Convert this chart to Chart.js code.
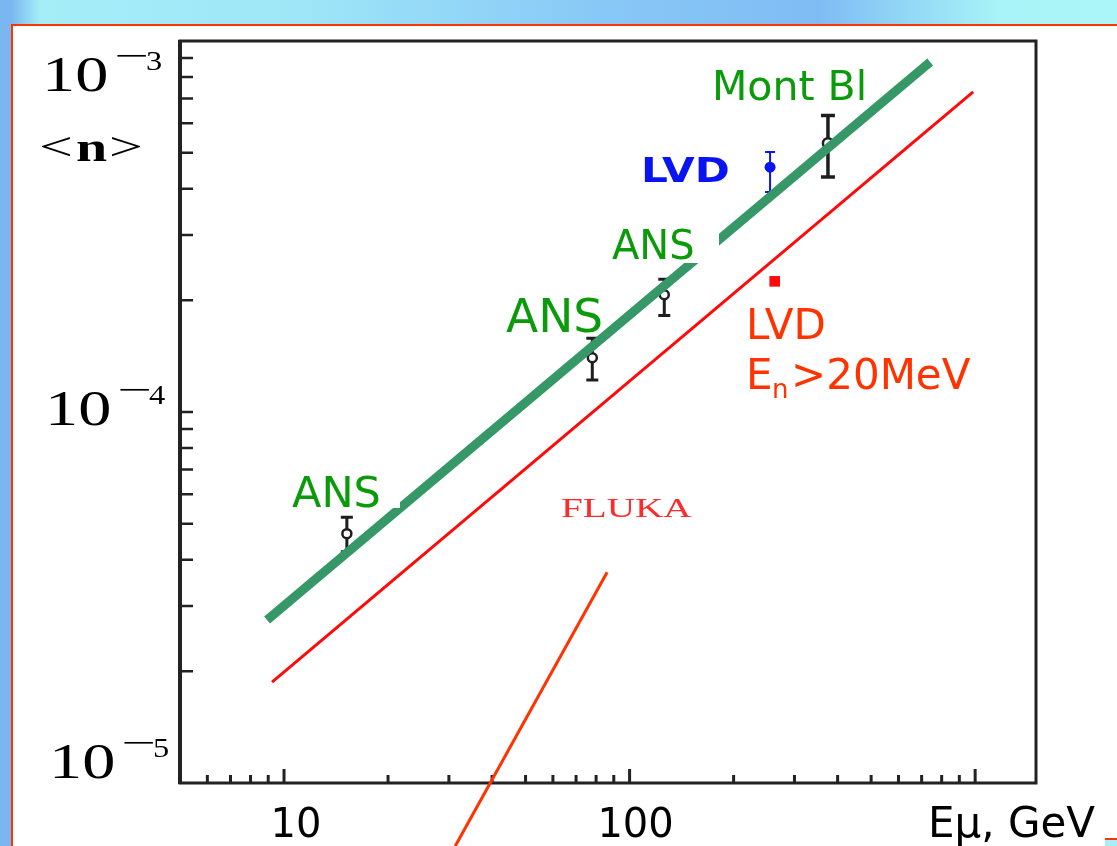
<!DOCTYPE html>
<html>
<head>
<meta charset="utf-8">
<title>Neutron yield vs muon energy</title>
<script src="https://cdn.jsdelivr.net/npm/chart.js@4.4.0/dist/chart.umd.min.js"></script>
<style>
  html, body { margin: 0; padding: 0; }
  body {
    width: 1117px; height: 846px; overflow: hidden; position: relative;
    background: linear-gradient(90deg, #7ab6f0 0px, #7ab6f0 11px, #a4eef8 40px, #9fe6f8 300px, #88c8f6 600px, #7fbcf4 820px, #a8f4f8 1000px, #aaf6f8 1117px);
  }
  #panel {
    position: absolute; left: 11px; top: 24px; right: 0; bottom: 0;
    background: #fff; border-top: 2px solid #ff3300; border-left: 2px solid #ff3300;
  }
  #corner {
    position: absolute; left: 1105px; top: 838px; width: 12px; height: 8px;
    background: #a6eef8; border-top: 2px solid #ff3300;
  }
  #chart { position: absolute; left: 0; top: 0; }
</style>
</head>
<body>
<div id="panel"></div>
<div id="corner"></div>
<canvas id="chart" width="1117" height="846"></canvas>
<script>
// Axis ranges and ticks
const xRange = [5, 1500];
const yRange = [1e-5, 1e-3];
const xMajorTicks = [10, 100, 1000];
const xMinorTicks = [6, 7, 8, 9, 20, 30, 40, 50, 60, 70, 80, 90, 200, 300, 400, 500, 600, 700, 800, 900];
const yTicks = [2e-5, 3e-5, 4e-5, 5e-5, 6e-5, 7e-5, 8e-5, 9e-5, 1e-4, 2e-4, 3e-4, 4e-4, 5e-4, 6e-4, 7e-4, 8e-4, 9e-4];
const xTickLabels = ['10', '100'];
const yTickExponents = ['3', '4', '5'];

// Measurements (E_mu in GeV, <n>)
const ansEnergy = [15.2, 78, 126];
const ansN = [4.7e-5, 1.40e-4, 2.07e-4];
const ansLow = [4.2e-5, 1.22e-4, 1.82e-4];
const ansHigh = [5.2e-5, 1.58e-4, 2.28e-4];

const montBlEnergy = [375];
const montBlN = [5.3e-4];
const montBlLow = [4.3e-4];
const montBlHigh = [6.3e-4];

const lvdEnergy = [255];
const lvdN = [4.57e-4];
const lvdLow = [3.92e-4];
const lvdHigh = [5.02e-4];

const lvd20Energy = [263];
const lvd20N = [2.25e-4];

// Lines: hand fit through data, FLUKA simulation, pointer
const fitEnergy = [8.93, 741];
const fitN = [2.75e-5, 8.78e-4];
const flukaEnergy = [9.23, 987];
const flukaN = [1.87e-5, 7.29e-4];
const pointerEnergy = [86.1, 31.3];
const pointerN = [3.70e-5, 6.76e-6];

const toPts = (xs, ys) => xs.map((x, i) => ({ x: x, y: ys[i] }));

const errorGroups = [
    { xs: ansEnergy, lo: ansLow, hi: ansHigh, color: '#1e1e1e', cap: 6, width: 3 },
    { xs: montBlEnergy, lo: montBlLow, hi: montBlHigh, color: '#1e1e1e', cap: 7, width: 3.5 },
    { xs: lvdEnergy, lo: lvdLow, hi: lvdHigh, color: '#0a14f0', cap: 5, width: 2 }
];

function stretchText(ctx, txt, x, y, font, color, sx) {
    ctx.save();
    ctx.font = font;
    ctx.fillStyle = color;
    ctx.textAlign = 'left';
    ctx.textBaseline = 'alphabetic';
    ctx.translate(x, y);
    ctx.scale(sx, 1);
    ctx.fillText(txt, 0, 0);
    ctx.restore();
}

const paperPlugin = {
    id: 'paperPlugin',
    beforeDatasetsDraw(chart) {
        const ctx = chart.ctx;
        const xs = chart.scales.x, ys = chart.scales.y;
        const a = chart.chartArea;

        // error bars
        errorGroups.forEach(g => {
            ctx.save();
            ctx.strokeStyle = g.color;
            ctx.lineWidth = g.width;
            g.xs.forEach((e, i) => {
                const px = xs.getPixelForValue(e);
                const y1 = ys.getPixelForValue(g.lo[i]);
                const y2 = ys.getPixelForValue(g.hi[i]);
                ctx.beginPath();
                ctx.moveTo(px, y1); ctx.lineTo(px, y2);
                ctx.moveTo(px - g.cap, y1); ctx.lineTo(px + g.cap, y1);
                ctx.moveTo(px - g.cap, y2); ctx.lineTo(px + g.cap, y2);
                ctx.stroke();
            });
            ctx.restore();
        });

        // frame
        ctx.save();
        ctx.strokeStyle = '#222';
        ctx.lineWidth = 3;
        ctx.strokeRect(a.left, a.top, a.right - a.left, a.bottom - a.top);
        ctx.lineWidth = 4;
        ctx.beginPath();
        ctx.moveTo(a.left, a.top - 1); ctx.lineTo(a.left, a.bottom + 1);
        ctx.stroke();

        // inward ticks
        ctx.lineWidth = 2.5;
        ctx.beginPath();
        yTicks.forEach(v => {
            const py = ys.getPixelForValue(v);
            ctx.moveTo(a.left, py); ctx.lineTo(a.left + 13, py);
        });
        ctx.stroke();
        ctx.lineWidth = 3;
        ctx.beginPath();
        xMinorTicks.forEach(v => {
            const px = xs.getPixelForValue(v);
            ctx.moveTo(px, a.bottom); ctx.lineTo(px, a.bottom - 8);
        });
        xMajorTicks.forEach(v => {
            const px = xs.getPixelForValue(v);
            ctx.moveTo(px, a.bottom); ctx.lineTo(px, a.bottom - 14);
        });
        ctx.stroke();
        ctx.restore();
    },
    afterDatasetsDraw(chart) {
        const ctx = chart.ctx;
        const xs = chart.scales.x;
        const sans = '"DejaVu Sans", Verdana, sans-serif';
        const serif = '"Liberation Serif", "Times New Roman", serif';

        // white boxes under pasted labels
        ctx.save();
        ctx.fillStyle = '#fff';
        ctx.fillRect(605, 215, 114, 48);
        ctx.fillRect(285, 465, 115, 43);
        ctx.restore();

        const green = '#0a9a0a';
        stretchText(ctx, 'Mont Bl', 712, 100, '41px ' + sans, green, 1);
        stretchText(ctx, 'ANS', 612, 259, '40px ' + sans, green, 1);
        stretchText(ctx, 'ANS', 506, 332, '47px ' + sans, green, 1);
        stretchText(ctx, 'ANS', 292, 507, '43px ' + sans, green, 1);

        stretchText(ctx, 'LVD', 641, 182, 'bold 33px ' + sans, '#0a14f0', 1.28);

        const orange = '#ff3300';
        stretchText(ctx, 'LVD', 746, 339, '42px ' + sans, orange, 1);
        stretchText(ctx, 'E', 746, 389, '42px ' + sans, orange, 1);
        stretchText(ctx, 'n', 772, 398, '26px ' + sans, orange, 1);
        stretchText(ctx, '>20MeV', 791, 389, '42px ' + sans, orange, 1);

        stretchText(ctx, 'FLUKA', 561, 517, '28px ' + serif, '#ff2a2a', 1.4);

        // x tick labels
        ctx.save();
        ctx.font = '40px ' + sans;
        ctx.fillStyle = '#000';
        ctx.textAlign = 'center';
        xTickLabels.forEach((t, i) => {
            const px = xs.getPixelForValue(xMajorTicks[i]);
            ctx.fillText(t, px + (i === 0 ? 12 : 6), 837);
        });
        ctx.textAlign = 'left';
        ctx.font = '42px ' + sans;
        ctx.fillText('E\u03bc, GeV', 928, 837);
        ctx.restore();

        // y tick labels 10^-3 .. 10^-5
        const yLabelPos = [[45, 91], [48, 425], [52, 778]];
        yTickExponents.forEach((ex, i) => {
            const L = yLabelPos[i][0], B = yLabelPos[i][1];
            stretchText(ctx, '10', L - 3, B, '51px ' + serif, '#000', 1.3);
            stretchText(ctx, '\u2212', L + 69, B - 24, '34px ' + serif, '#000', 1.8);
            stretchText(ctx, ex, L + 101, B - 21, '27px ' + serif, '#000', 1.2);
        });

        // axis title <n>
        stretchText(ctx, '<', 39, 160, '40px ' + serif, '#000', 1.5);
        stretchText(ctx, 'n', 76, 161, 'bold 40px ' + serif, '#000', 1.4);
        stretchText(ctx, '>', 109, 160, '40px ' + serif, '#000', 1.5);
    }
};

new Chart(document.getElementById('chart'), {
    type: 'scatter',
    data: {
        datasets: [
            {
                label: 'fit', data: toPts(fitEnergy, fitN), showLine: true,
                borderColor: '#359866', borderWidth: 9, borderCapStyle: 'butt',
                pointRadius: 0, order: 0
            },
            {
                label: 'FLUKA', data: toPts(flukaEnergy, flukaN), showLine: true,
                borderColor: '#ff0a0a', borderWidth: 3, pointRadius: 0, order: 1
            },
            {
                label: 'pointer', data: toPts(pointerEnergy, pointerN), showLine: true,
                borderColor: '#ff3300', borderWidth: 3, pointRadius: 0, clip: false, order: 0
            },
            {
                label: 'ANS', data: toPts(ansEnergy, ansN),
                pointStyle: 'circle', pointRadius: 4.5, pointBorderWidth: 2.5,
                pointBackgroundColor: '#fff', pointBorderColor: '#1e1e1e', order: 3
            },
            {
                label: 'Mont Blanc', data: toPts(montBlEnergy, montBlN),
                pointStyle: 'circle', pointRadius: 5, pointBorderWidth: 2.5,
                pointBackgroundColor: '#fff', pointBorderColor: '#1e1e1e', order: 3
            },
            {
                label: 'LVD', data: toPts(lvdEnergy, lvdN),
                pointStyle: 'circle', pointRadius: 5.5, pointBorderWidth: 0,
                pointBackgroundColor: '#0a14f0', order: 3
            },
            {
                label: 'LVD En>20MeV', data: toPts(lvd20Energy, lvd20N),
                pointStyle: 'rect', pointRadius: 7.5, pointBorderWidth: 0,
                pointBackgroundColor: '#ff0a0a', order: 3
            }
        ]
    },
    options: {
        responsive: false,
        animation: false,
        devicePixelRatio: 1,
        layout: { padding: { left: 180, top: 41, right: 81, bottom: 63 } },
        plugins: { legend: { display: false }, tooltip: { enabled: false } },
        scales: {
            x: { type: 'logarithmic', min: xRange[0], max: xRange[1], display: false },
            y: { type: 'logarithmic', min: yRange[0], max: yRange[1], display: false }
        }
    },
    plugins: [paperPlugin]
});
</script>
</body>
</html>
